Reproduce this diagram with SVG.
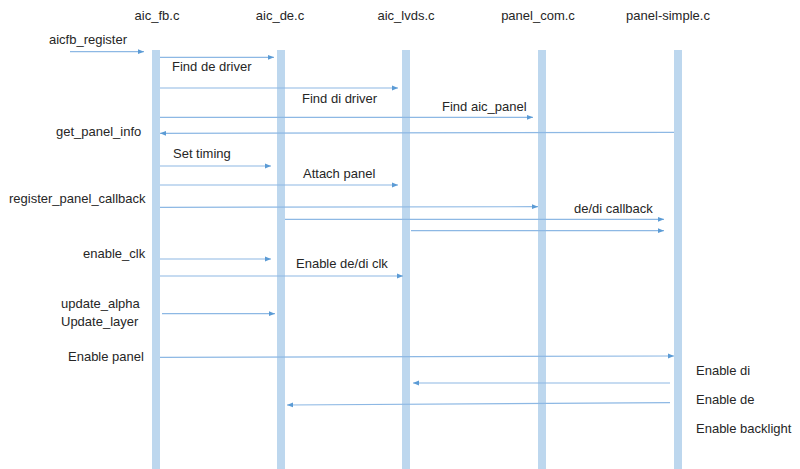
<svg xmlns="http://www.w3.org/2000/svg" width="800" height="469" viewBox="0 0 800 469">
<defs>
<style>
text{font-family:"Liberation Sans",Arial,sans-serif;font-size:13px;fill:#262626}
.bar{fill:#bdd7ee}
.msg{stroke:#8db8e4;stroke-width:1.2;fill:none;marker-end:url(#ah)}
</style>
<marker id="ah" viewBox="0 0 10 10" refX="10" refY="5" markerWidth="6" markerHeight="6" markerUnits="userSpaceOnUse" orient="auto">
<path d="M0,1 L10,5 L0,9 z" fill="#5b9bd5"/>
</marker>
</defs>
<rect width="800" height="469" fill="#fff"/>
<g id="aic_fb"><rect class="bar" x="152" y="50" width="8" height="419"/><text x="157" y="20" text-anchor="middle">aic_fb.c</text></g>
<g id="aic_de"><rect class="bar" x="277" y="50" width="8" height="419"/><text x="280" y="20" text-anchor="middle">aic_de.c</text></g>
<g id="aic_lvds"><rect class="bar" x="402" y="50" width="8" height="419"/><text x="406" y="20" text-anchor="middle">aic_lvds.c</text></g>
<g id="panel_com"><rect class="bar" x="538" y="50" width="8" height="419"/><text x="538" y="20" text-anchor="middle">panel_com.c</text></g>
<g id="panel_simple"><rect class="bar" x="674" y="50" width="8" height="419"/><text x="668" y="20" text-anchor="middle">panel-simple.c</text></g>
<g id="connectors">
<line class="msg" x1="70" y1="51.7" x2="144" y2="51.7"/>
<line class="msg" x1="160" y1="57.3" x2="274" y2="57.3"/>
<line class="msg" x1="160" y1="88" x2="398" y2="88"/>
<line class="msg" x1="160" y1="117.3" x2="533" y2="117.3"/>
<line class="msg" x1="674" y1="132.3" x2="160" y2="133.3"/>
<line class="msg" x1="160" y1="166" x2="271" y2="166"/>
<line class="msg" x1="160" y1="185" x2="398" y2="185"/>
<line class="msg" x1="160" y1="207.3" x2="538" y2="206.7"/>
<line class="msg" x1="285" y1="219.3" x2="664" y2="219.3"/>
<line class="msg" x1="411" y1="230.7" x2="664" y2="230.7"/>
<line class="msg" x1="160" y1="259" x2="271" y2="259"/>
<line class="msg" x1="160" y1="276" x2="403" y2="276"/>
<line class="msg" x1="162" y1="313.7" x2="275" y2="313.7"/>
<line class="msg" x1="160" y1="357.3" x2="674" y2="356"/>
<line class="msg" x1="670" y1="383" x2="413" y2="383"/>
<line class="msg" x1="670" y1="402.7" x2="287" y2="405"/>
</g>
<g id="labels">
<text x="49" y="44">aicfb_register</text>
<text x="172" y="71">Find de driver</text>
<text x="302" y="103">Find di driver</text>
<text x="442" y="111">Find aic_panel</text>
<text x="56" y="136">get_panel_info</text>
<text x="173" y="158">Set timing</text>
<text x="303" y="178">Attach panel</text>
<text x="9" y="203">register_panel_callback</text>
<text x="574" y="213">de/di callback</text>
<text x="83" y="258">enable_clk</text>
<text x="296" y="268">Enable de/di clk</text>
<text x="61" y="308">update_alpha</text>
<text x="61" y="326">Update_layer</text>
<text x="68" y="361">Enable panel</text>
<text x="696" y="375">Enable di</text>
<text x="696" y="404">Enable de</text>
<text x="696" y="433">Enable backlight</text>
</g>
</svg>
